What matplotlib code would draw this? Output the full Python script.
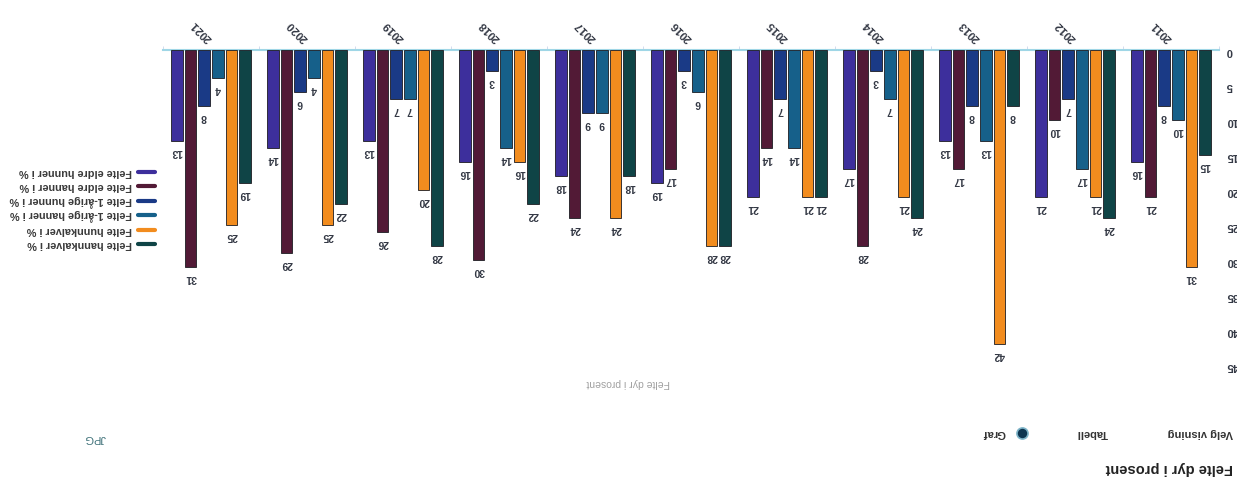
import numpy as np
import matplotlib
matplotlib.use("Agg")
import matplotlib.pyplot as plt
from matplotlib.lines import Line2D

# the reference is a screenshot turned upside down, so the whole chart is drawn rotated 180 degrees

years = ["2011", "2012", "2013", "2014", "2015", "2016",
         "2017", "2018", "2019", "2020", "2021"]

hannkalver = [15, 24, 8, 24, 21, 28, 18, 22, 28, 22, 19]
hunnkalver = [31, 21, 42, 21, 21, 28, 24, 16, 20, 25, 25]
hanner_1ar = [10, 17, 13, 7, 14, 6, 9, 14, 7, 4, 4]
hunner_1ar = [8, 7, 8, 3, 7, 3, 9, 3, 7, 6, 8]
eldre_hanner = [21, 10, 17, 28, 14, 17, 24, 30, 26, 29, 31]
eldre_hunner = [16, 21, 13, 17, 21, 19, 18, 16, 13, 14, 13]

series_names = ["Felte hannkalver i %", "Felte hunnkalver i %",
                "Felte 1-årige hanner i %", "Felte 1-årige hunner i %",
                "Felte eldre hanner i %", "Felte eldre hunner i %"]
series_values = [hannkalver, hunnkalver, hanner_1ar, hunner_1ar,
                 eldre_hanner, eldre_hunner]
colors = ["#0f4446", "#f28c1e", "#16608a", "#1a3a86", "#521a36", "#3d2f9c"]

plt.rcParams['font.family'] = ['Liberation Sans', 'DejaVu Sans']

W, H = 1237, 491
fig = plt.figure(figsize=(W / 100, H / 100), dpi=100)
fig.patch.set_facecolor("white")

# plot area in pixels: x 163..1219, zero line at y=50, 45 at y=365
ax = fig.add_axes([163 / W, 1 - 365 / H, (1219 - 163) / W, (365 - 50) / H])
ax.set_xlim(len(years) - 0.5, -0.5)
ax.set_ylim(45, 0)

x = np.arange(len(years))
step = 0.142
bar_w = 0.12
text_col = "#333844"
for k, (vals, col) in enumerate(zip(series_values, colors)):
    pos = x + (k - 2.5) * step
    ax.bar(pos, vals, width=bar_w, color=col, edgecolor="#1c1c22",
           linewidth=0.6, zorder=3)
    for px, v in zip(pos, vals):
        ax.annotate(str(v), (px, v), xytext=(0, -4), textcoords="offset points",
                    ha="center", va="top", rotation=180, fontsize=7.5,
                    fontweight="bold", color=text_col)

for side in ["left", "right", "bottom"]:
    ax.spines[side].set_visible(False)
ax.spines["top"].set_color("#9fd6e6")
ax.spines["top"].set_linewidth(1.5)

ax.yaxis.tick_right()
ax.set_yticks(range(0, 50, 5))
ax.tick_params(axis="y", length=0, pad=5, labelsize=8, labelcolor=text_col)
for lab in ax.get_yticklabels():
    lab.set_rotation(180)
    lab.set_fontweight("bold")

ax.xaxis.tick_top()
ax.set_xticks(x)
ax.set_xticklabels(years, rotation=135, rotation_mode="anchor",
                   ha="left", va="center", fontsize=8, fontweight="bold",
                   color=text_col)
ax.tick_params(axis="x", which="major", length=0, pad=7)
ax.set_xticks(np.arange(-0.5, len(years), 1), minor=True)
ax.tick_params(axis="x", which="minor", length=3, color="#ccd6eb",
               top=True, bottom=False)

# legend, drawn by hand so it reads upside down like the reference
leg_rows = [244, 230, 215, 201, 186, 172]
for name, col, yy in zip(series_names, colors, leg_rows):
    fig.add_artist(Line2D([138 / W, 155 / W], [1 - yy / H, 1 - yy / H],
                          color=col, linewidth=3, solid_capstyle="round"))
    fig.text(132 / W, 1 - yy / H, name, rotation=180, ha="right",
             va="center", fontsize=7.8, fontweight="bold", color="#3a3a3a")

# header texts (bottom of the image)
fig.text(1233 / W, 1 - 468 / H, "Felte dyr i prosent", rotation=180,
         ha="right", va="center", fontsize=10.5, fontweight="bold",
         color="#222222")
fig.text(1233 / W, 1 - 433 / H, "Velg visning", rotation=180, ha="right",
         va="center", fontsize=8, fontweight="bold", color="#333333")
fig.text(1108 / W, 1 - 433 / H, "Tabell", rotation=180, ha="right",
         va="center", fontsize=8, fontweight="bold", color="#333333")
fig.add_artist(Line2D([1022 / W], [1 - 433 / H], marker="o", markersize=8,
                      markerfacecolor="#0d3550", markeredgecolor="#7fb5c9",
                      markeredgewidth=1.2))
fig.text(1006 / W, 1 - 433 / H, "Graf", rotation=180, ha="right",
         va="center", fontsize=8, fontweight="bold", color="#333333")
fig.text(106 / W, 1 - 438 / H, "JPG", rotation=180, ha="right",
         va="center", fontsize=8, color="#3d7078")
fig.text(628 / W, 1 - 383 / H, "Felte dyr i prosent", rotation=180,
         ha="center", va="center", fontsize=7.5, color="#a0a0a0")

fig.savefig("out.png", dpi=100)
